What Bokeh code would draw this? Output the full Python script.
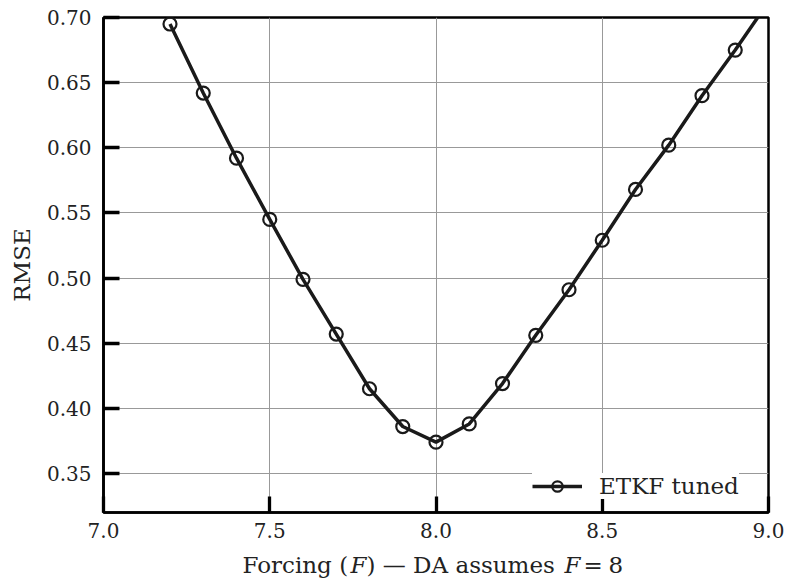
from bokeh.plotting import figure
from bokeh.models import Range1d, FixedTicker, Legend, LegendItem, NumeralTickFormatter, ColumnDataSource
from bokeh.layouts import column
from bokeh.core.properties import value
from bokeh.embed import file_html
from bokeh.resources import INLINE

forcing = [7.2, 7.3, 7.4, 7.5, 7.6, 7.7, 7.8, 7.9, 8.0, 8.1, 8.2, 8.3, 8.4, 8.5, 8.6, 8.7, 8.8, 8.9, 9.0]
rmse = [0.695, 0.642, 0.592, 0.545, 0.499, 0.457, 0.415, 0.386, 0.374, 0.388, 0.419, 0.456, 0.491, 0.529, 0.568, 0.602, 0.640, 0.675, 0.712]
x_ticks = [7.0, 7.5, 8.0, 8.5, 9.0]
y_ticks = [0.35, 0.40, 0.45, 0.50, 0.55, 0.60, 0.65, 0.70]
series_name = "ETKF tuned"
x_label_parts = ["Forcing (", "F", ") \u2014 DA assumes", "F", "=", "8"]
x_label_styles = ["normal", "italic", "normal", "italic", "normal", "normal"]
y_label = "RMSE"

FONT = "DejaVu Serif"
INK = "#1a1a1a"
TXT = "#222222"

W = 787
H_MAIN = 545
H_LABEL = 34
B_LEFT, B_RIGHT = 103, 19

p = figure(width=W, height=H_MAIN, output_backend="svg", toolbar_location=None,
           x_range=Range1d(7.0, 9.0), y_range=Range1d(0.32, 0.70),
           min_border_left=B_LEFT, min_border_right=B_RIGHT, min_border_top=17, min_border_bottom=33)

p.background_fill_color = "white"
p.border_fill_color = "white"
p.outline_line_color = "black"
p.outline_line_width = 2.5

p.xaxis.ticker = FixedTicker(ticks=x_ticks)
p.yaxis.ticker = FixedTicker(ticks=y_ticks)
p.xaxis.formatter = NumeralTickFormatter(format="0.0")
p.yaxis.formatter = NumeralTickFormatter(format="0.00")

for ax in p.axis:
    ax.axis_line_width = 2.7
    ax.axis_line_color = "black"
    ax.major_tick_in = 16
    ax.major_tick_out = 0
    ax.major_tick_line_width = 3.3
    ax.major_tick_line_color = "black"
    ax.minor_tick_line_color = None
    ax.major_label_text_font = FONT
    ax.major_label_text_font_size = "20px"
    ax.major_label_text_color = TXT
    ax.axis_label_text_font = FONT
    ax.axis_label_text_font_size = "23px"
    ax.axis_label_text_font_style = "normal"
    ax.axis_label_text_color = TXT

p.yaxis.axis_label = y_label
p.xaxis.major_label_standoff = 10
p.yaxis.major_label_standoff = 12
p.yaxis.axis_label_standoff = 9

p.grid.grid_line_color = "#999999"
p.grid.grid_line_width = 1

ln = p.line(forcing, rmse, line_width=3.5, line_color=INK)
sc = p.scatter(forcing, rmse, marker="circle", size=13, fill_color=None,
               line_color=INK, line_width=2.2)
# smaller marker used for the legend swatch (its one point is the clipped last one)
sc_leg = p.scatter(x=forcing[-1:], y=rmse[-1:], marker="circle", size=8, fill_color=None,
                   line_color=INK, line_width=2.2)

legend = Legend(items=[LegendItem(label=series_name, renderers=[ln, sc_leg])],
                location=(429, 13))
legend.border_line_color = None
legend.background_fill_color = "white"
legend.background_fill_alpha = 1.0
legend.label_text_font = FONT
legend.label_text_font_size = "23px"
legend.label_text_color = TXT
legend.glyph_width = 50
legend.glyph_height = 26
legend.label_height = 26
legend.label_standoff = 17
legend.padding = 8
legend.margin = 0
p.add_layout(legend)

# x-axis title, assembled from pieces so that F is italic; frame aligned with the main one
q = figure(width=W, height=H_LABEL, output_backend="svg", toolbar_location=None,
           x_range=Range1d(B_LEFT, W - B_RIGHT), y_range=Range1d(0, H_LABEL),
           x_axis_type=None, y_axis_type=None,
           min_border_left=B_LEFT, min_border_right=B_RIGHT, min_border_top=0, min_border_bottom=0)
q.outline_line_color = None
q.grid.visible = False
q.background_fill_color = "white"
q.border_fill_color = "white"
part_x = [242, 350, 366, 564, 583, 608]
src = ColumnDataSource(dict(x=part_x, y=[15] * len(part_x), text=x_label_parts, style=x_label_styles))
q.text(x="x", y="y", text="text", source=src, text_font=value(FONT), text_font_size=value("23px"),
       text_font_style="style", text_color=TXT, text_align="left", text_baseline="alphabetic")

layout = column(p, q, spacing=0)
open("out.html", "w").write(file_html(layout, INLINE))
